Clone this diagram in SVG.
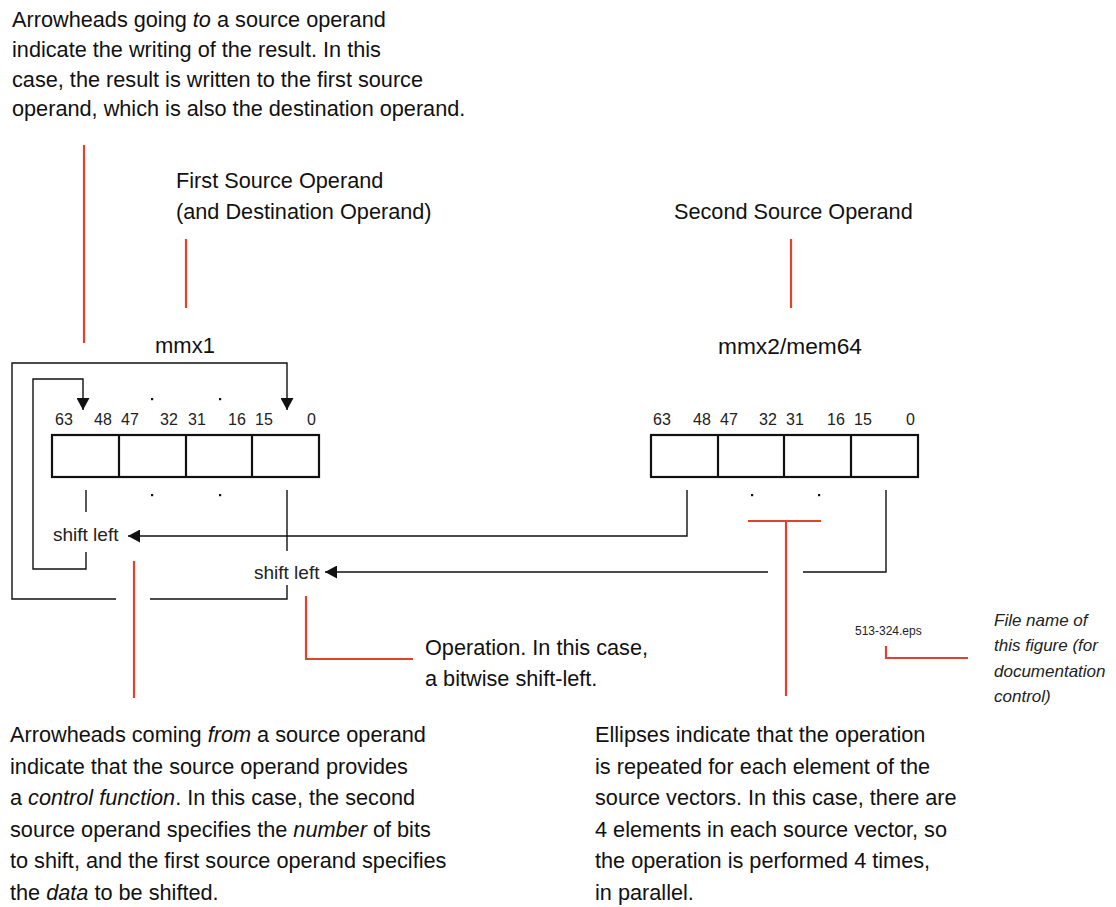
<svg xmlns="http://www.w3.org/2000/svg" width="1116" height="907" viewBox="0 0 1116 907">
<style>
.t{font-family:"Liberation Sans",Arial,sans-serif;font-size:21.7px;fill:#111}
.lb{font-family:"Liberation Sans",Arial,sans-serif;font-size:22px;fill:#111;text-anchor:middle}
.bit{font-family:"Liberation Sans",Arial,sans-serif;font-size:16px;fill:#222}
.op{font-family:"Liberation Sans",Arial,sans-serif;font-size:19px;fill:#222}
.fn{font-family:"Liberation Sans",Arial,sans-serif;font-size:12px;fill:#222}
.it{font-family:"Liberation Sans",Arial,sans-serif;font-size:17px;font-style:italic;fill:#222}
.i{font-style:italic}
.reg{fill:#fff;stroke:#111;stroke-width:2.2}
.div{stroke:#111;stroke-width:2.2}
.ln{fill:none;stroke:#111;stroke-width:1.4}
.red{fill:none;stroke:#E0432C;stroke-width:2.2}
.dot{fill:#111}
</style>
<defs>
<marker id="ah" markerUnits="userSpaceOnUse" markerWidth="13" markerHeight="13" refX="12" refY="6.5" orient="auto">
<path d="M0,0 L12,6.5 L0,13 z" fill="#111"/>
</marker>
</defs>

<g id="note-top">
<text class="t" x="12" y="27">Arrowheads going <tspan class="i">to</tspan> a source operand</text>
<text class="t" x="12" y="57">indicate the writing of the result. In this</text>
<text class="t" x="12" y="86.5">case, the result is written to the first source</text>
<text class="t" x="12" y="116">operand, which is also the destination operand.</text>
</g>

<g id="label-first">
<text class="t" x="176" y="188">First Source Operand</text>
<text class="t" x="176" y="219">(and Destination Operand)</text>
</g>

<g id="label-second">
<text class="t" x="674" y="219">Second Source Operand</text>
</g>

<g id="reg-mmx1">
<text class="lb" x="185" y="353">mmx1</text>
<text class="bit" x="55" y="425">63</text>
<text class="bit" x="94" y="425">48</text>
<text class="bit" x="121" y="425">47</text>
<text class="bit" x="160" y="425">32</text>
<text class="bit" x="188" y="425">31</text>
<text class="bit" x="228" y="425">16</text>
<text class="bit" x="255" y="425">15</text>
<text class="bit" x="307" y="425">0</text>
<rect class="reg" x="52" y="435" width="267" height="42"/>
<line class="div" x1="119" y1="435" x2="119" y2="477"/>
<line class="div" x1="186" y1="435" x2="186" y2="477"/>
<line class="div" x1="252" y1="435" x2="252" y2="477"/>
<rect class="dot" x="151" y="398" width="2.2" height="2.2"/>
<rect class="dot" x="219" y="398" width="2.2" height="2.2"/>
<rect class="dot" x="151" y="494" width="2.2" height="2.2"/>
<rect class="dot" x="219" y="494" width="2.2" height="2.2"/>
</g>

<g id="reg-mmx2">
<text class="lb" x="790" y="354" textLength="144" lengthAdjust="spacingAndGlyphs">mmx2/mem64</text>
<text class="bit" x="653" y="425">63</text>
<text class="bit" x="693" y="425">48</text>
<text class="bit" x="720" y="425">47</text>
<text class="bit" x="759" y="425">32</text>
<text class="bit" x="786" y="425">31</text>
<text class="bit" x="827" y="425">16</text>
<text class="bit" x="854" y="425">15</text>
<text class="bit" x="906" y="425">0</text>
<rect class="reg" x="651" y="435" width="267" height="42"/>
<line class="div" x1="718" y1="435" x2="718" y2="477"/>
<line class="div" x1="784" y1="435" x2="784" y2="477"/>
<line class="div" x1="851" y1="435" x2="851" y2="477"/>
<rect class="dot" x="751" y="494" width="2.2" height="2.2"/>
<rect class="dot" x="818" y="494" width="2.2" height="2.2"/>
</g>

<g id="op-1">
<text class="op" x="53" y="541">shift left</text>
</g>
<g id="op-2">
<text class="op" x="254" y="579">shift left</text>
</g>

<g id="connectors">
<path class="ln" d="M86 490 V512"/>
<path class="ln" d="M287 490 V551"/>
<path class="ln" d="M86 552 V569 H33 V379 H83 V410" marker-end="url(#ah)"/>
<path class="ln" d="M287 585 V599 H150"/>
<path class="ln" d="M116 599 H12 V363 H287 V410" marker-end="url(#ah)"/>
<path class="ln" d="M687 490 V536 H128" marker-end="url(#ah)"/>
<path class="ln" d="M886 490 V572 H803"/>
<path class="ln" d="M768 572 H325" marker-end="url(#ah)"/>
</g>

<g id="callouts">
<path class="red" d="M84 145 V343"/>
<path class="red" d="M186 239 V308"/>
<path class="red" d="M791 239 V308"/>
<path class="red" d="M134 561 V698"/>
<path class="red" d="M306 596 V659 H413"/>
<path class="red" d="M748 521 H821 M786 521 V696"/>
<path class="red" d="M886 646 V658 H968"/>
</g>

<g id="note-operation">
<text class="t" x="425" y="655">Operation. In this case,</text>
<text class="t" x="425" y="686">a bitwise shift-left.</text>
</g>

<g id="note-filename">
<text class="fn" x="855" y="635">513-324.eps</text>
<text class="it" x="994" y="626">File name of</text>
<text class="it" x="994" y="651">this figure (for</text>
<text class="it" x="994" y="677">documentation</text>
<text class="it" x="994" y="702">control)</text>
</g>

<g id="note-from">
<text class="t" x="10" y="742">Arrowheads coming <tspan class="i">from</tspan> a source operand</text>
<text class="t" x="10" y="773.5">indicate that the source operand provides</text>
<text class="t" x="10" y="805">a <tspan class="i">control function</tspan>. In this case, the second</text>
<text class="t" x="10" y="836.5">source operand specifies the <tspan class="i">number</tspan> of bits</text>
<text class="t" x="10" y="868">to shift, and the first source operand specifies</text>
<text class="t" x="10" y="900">the <tspan class="i">data</tspan> to be shifted.</text>
</g>

<g id="note-ellipses">
<text class="t" x="595" y="742">Ellipses indicate that the operation</text>
<text class="t" x="595" y="773.5">is repeated for each element of the</text>
<text class="t" x="595" y="805">source vectors. In this case, there are</text>
<text class="t" x="595" y="836.5">4 elements in each source vector, so</text>
<text class="t" x="595" y="868">the operation is performed 4 times,</text>
<text class="t" x="595" y="900">in parallel.</text>
</g>
</svg>
